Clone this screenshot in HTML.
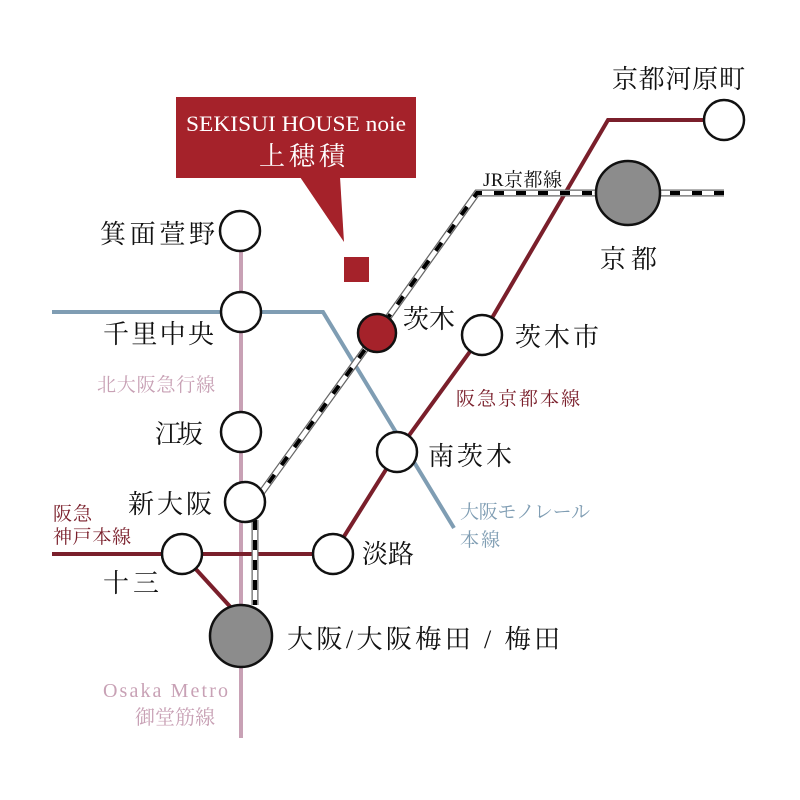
<!DOCTYPE html>
<html><head><meta charset="utf-8"><style>
html,body{margin:0;padding:0;background:#fff}
svg{display:block}
text{font-family:"Liberation Serif","Noto Serif CJK JP","Noto Serif CJK SC",serif}
</style></head><body>
<svg width="800" height="800" viewBox="0 0 800 800" xmlns="http://www.w3.org/2000/svg">
<line x1="241" y1="250" x2="241" y2="738" stroke="#c8a1b5" stroke-width="4"/>
<polyline points="52,312 323,312 454,528" fill="none" stroke="#7f9db3" stroke-width="4"/>
<polyline points="704,120 608,120 482,335 397,452 333,554" fill="none" stroke="#7a1f2b" stroke-width="4"/>
<line x1="52" y1="554" x2="333" y2="554" stroke="#7a1f2b" stroke-width="4"/>
<line x1="182" y1="554" x2="235" y2="612" stroke="#7a1f2b" stroke-width="4"/>
<g fill="none">
<polyline points="724,193 477,193 377,333 262,492" stroke="#666" stroke-width="7"/>
<polyline points="724,193 477,193 377,333 262,492" stroke="#fff" stroke-width="4.5"/>
<polyline points="724,193 477,193 377,333 262,492" stroke="#000" stroke-width="4" stroke-dasharray="10,12"/>
<line x1="255" y1="520" x2="255" y2="605" stroke="#666" stroke-width="7"/>
<line x1="255" y1="520" x2="255" y2="605" stroke="#fff" stroke-width="4.5"/>
<line x1="255" y1="520" x2="255" y2="605" stroke="#000" stroke-width="4" stroke-dasharray="10,10"/>
</g>
<g stroke="#111" stroke-width="2.5" fill="#fff">
<circle cx="724" cy="120" r="20"/>
<circle cx="240" cy="231" r="20"/>
<circle cx="241" cy="312" r="20"/>
<circle cx="482" cy="335" r="20"/>
<circle cx="241" cy="432" r="20"/>
<circle cx="397" cy="452" r="20"/>
<circle cx="245" cy="502" r="20"/>
<circle cx="182" cy="554" r="20"/>
<circle cx="333" cy="554" r="20"/>
<circle cx="628" cy="193" r="32" fill="#8c8c8c"/>
<circle cx="241" cy="636" r="31" fill="#8c8c8c"/>
<circle cx="377" cy="333" r="19" fill="#a5222a"/>
</g>
<rect x="176" y="97" width="240" height="81" fill="#a5222a"/>
<polygon points="300,177 340,177 344,242" fill="#a5222a"/>
<rect x="344" y="257" width="25" height="25" fill="#a5222a"/>
<text x="186" y="131" font-size="22" fill="#fff" textLength="220" lengthAdjust="spacingAndGlyphs">SEKISUI HOUSE noie</text>
<text x="259" y="165" font-size="26" fill="#fff" textLength="86">上穂積</text>
<g font-size="26" fill="#111">
<text x="612" y="88" textLength="133">京都河原町</text>
<text x="600" y="268" textLength="57">京都</text>
<text x="100" y="243" textLength="115">箕面萱野</text>
<text x="103" y="343" textLength="111">千里中央</text>
<text x="403" y="328" textLength="52">茨木</text>
<text x="515" y="346" textLength="84">茨木市</text>
<text x="155" y="443" textLength="48">江坂</text>
<text x="428" y="465" textLength="84">南茨木</text>
<text x="128" y="513" textLength="84">新大阪</text>
<text x="362" y="563" textLength="52">淡路</text>
<text x="103" y="592" textLength="56">十三</text>
<text x="287" y="648" textLength="273">大阪/大阪梅田 / 梅田</text>
</g>
<text x="483" y="186" font-size="19" fill="#111" textLength="79">JR京都線</text>
<g font-size="19">
<text x="97" y="391" fill="#c8a1b5" textLength="118">北大阪急行線</text>
<text x="456" y="405" fill="#7a1f2b" textLength="124">阪急京都本線</text>
<text x="53" y="520" fill="#7a1f2b" textLength="39">阪急</text>
<text x="53" y="543" fill="#7a1f2b" textLength="78">神戸本線</text>
<text x="460" y="518" fill="#7f9db3" textLength="130">大阪モノレール</text>
<text x="460" y="546" fill="#7f9db3" textLength="40">本線</text>
<text x="103" y="697" fill="#c8a1b5" font-size="20" textLength="125">Osaka Metro</text>
<text x="135" y="724" fill="#c8a1b5" font-size="20" textLength="80">御堂筋線</text>
</g>
</svg>
</body></html>
